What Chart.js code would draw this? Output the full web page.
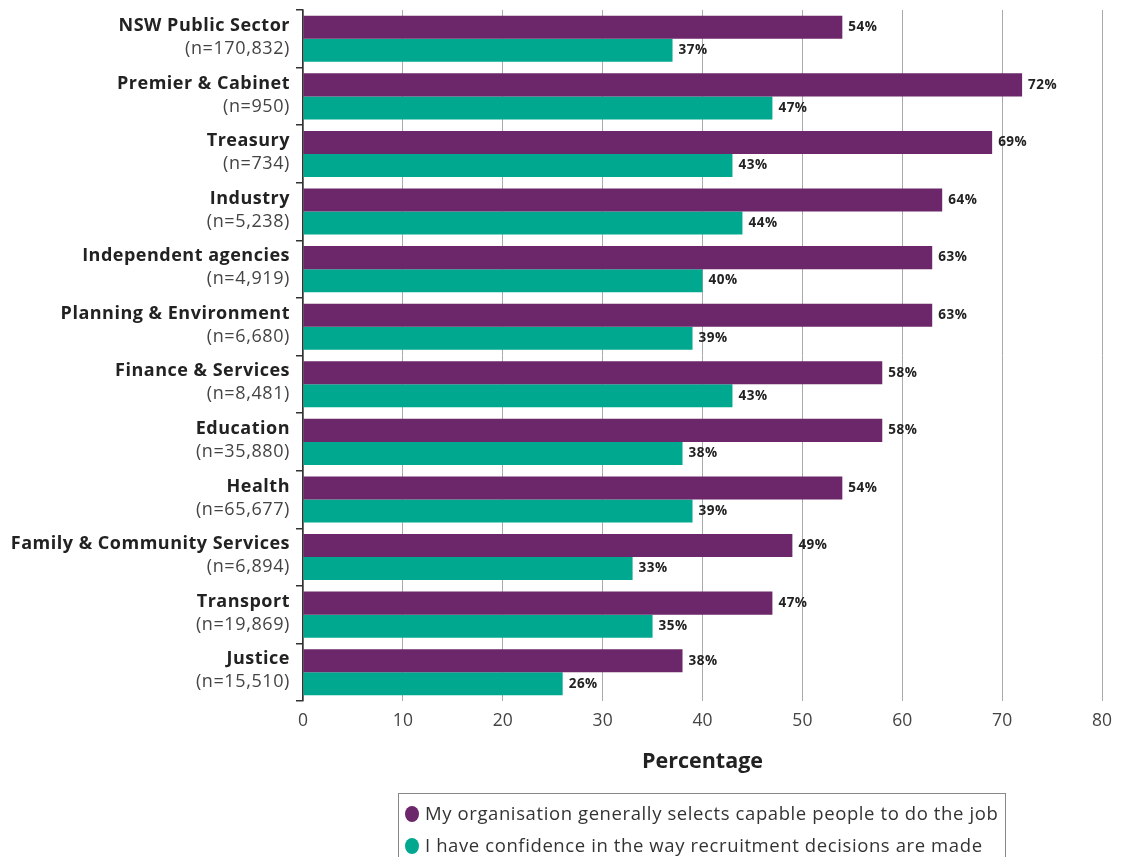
<!DOCTYPE html>
<html>
<head>
<meta charset="utf-8">
<script src="https://cdn.jsdelivr.net/npm/chart.js@4.4.0/dist/chart.umd.min.js"></script>
<style>
  html, body { margin: 0; padding: 0; background: #fff; }
  #wrap { position: relative; width: 1130px; height: 857px; overflow: hidden; }
  #legend {
    position: absolute; left: 398px; top: 793px; width: 608px; height: 80px;
    border: 1px solid #888; box-sizing: border-box; padding: 5px 0 0 6px;
    font-family: "Open Sans", sans-serif; font-size: 18.5px; letter-spacing: 0.6px; color: #333;
  }
  #legend div { height: 32px; line-height: 28px; white-space: nowrap; }
  #legend span.dot {
    display: inline-block; width: 14px; height: 16px; border-radius: 50%;
    vertical-align: -2px; margin-right: 6px;
  }
</style>
</head>
<body>
<div id="wrap">
  <canvas id="chart" width="1130" height="857"></canvas>
  <div id="legend"></div>
</div>
<script>
const categories = [
  'NSW Public Sector', 'Premier & Cabinet', 'Treasury', 'Industry',
  'Independent agencies', 'Planning & Environment', 'Finance & Services',
  'Education', 'Health', 'Family & Community Services', 'Transport', 'Justice'
];
const sampleSizes = [
  '(n=170,832)', '(n=950)', '(n=734)', '(n=5,238)', '(n=4,919)', '(n=6,680)',
  '(n=8,481)', '(n=35,880)', '(n=65,677)', '(n=6,894)', '(n=19,869)', '(n=15,510)'
];
const selectsCapable = [54, 72, 69, 64, 63, 63, 58, 58, 54, 49, 47, 38];
const confidence = [37, 47, 43, 44, 40, 39, 43, 38, 39, 33, 35, 26];
const seriesNames = [
  'My organisation generally selects capable people to do the job',
  'I have confidence in the way recruitment decisions are made'
];
const colours = ['#6b2769', '#00a88f'];

const FONT = '"Open Sans", sans-serif';

// two-line category labels: bold name, light sample size
const categoryLabels = {
  id: 'categoryLabels',
  afterDraw(chart) {
    const { ctx, scales: { y } } = chart;
    ctx.save();
    ctx.textAlign = 'right';
    ctx.textBaseline = 'middle';
    categories.forEach((name, i) => {
      const cy = y.getPixelForValue(i);
      ctx.fillStyle = '#222';
      ctx.font = 'bold 18px ' + FONT;
      ctx.letterSpacing = '0.5px';
      ctx.fillText(name, 290, cy - 13);
      ctx.fillStyle = '#444';
      ctx.font = '18px ' + FONT;
      ctx.letterSpacing = '0.6px';
      ctx.fillText(sampleSizes[i], 290, cy + 10);
    });
    ctx.restore();
  }
};

// percentage labels at the bar ends
const valueLabels = {
  id: 'valueLabels',
  afterDatasetsDraw(chart) {
    const { ctx } = chart;
    ctx.save();
    ctx.font = 'bold 13.5px ' + FONT;
    ctx.letterSpacing = '0.5px';
    ctx.fillStyle = '#222';
    ctx.textBaseline = 'middle';
    chart.data.datasets.forEach((ds, di) => {
      chart.getDatasetMeta(di).data.forEach((bar, i) => {
        ctx.fillText(ds.data[i] + '%', bar.x + 6, bar.y);
      });
    });
    ctx.restore();
  }
};

new Chart(document.getElementById('chart'), {
  type: 'bar',
  data: {
    labels: categories,
    datasets: [
      { label: seriesNames[0], data: selectsCapable, backgroundColor: colours[0] },
      { label: seriesNames[1], data: confidence, backgroundColor: colours[1] }
    ]
  },
  options: {
    responsive: false,
    animation: false,
    indexAxis: 'y',
    layout: { padding: { top: 10, right: 28, bottom: 82, left: 0 } },
    categoryPercentage: 0.8,
    barPercentage: 1.0,
    plugins: { legend: { display: false }, tooltip: { enabled: false } },
    scales: {
      x: {
        min: 0,
        max: 80,
        ticks: { stepSize: 10, color: '#444', padding: 10, font: { family: FONT, size: 17.5 } },
        grid: { color: '#aaa', drawTicks: false },
        border: { display: false },
        title: {
          display: true,
          text: 'Percentage',
          color: '#222',
          font: { family: FONT, size: 21.5, weight: 'bold' },
          padding: { top: 18, bottom: 0 }
        },
        afterFit(scale) { scale.height = 74; }
      },
      y: {
        ticks: { display: false },
        grid: { offset: true, drawOnChartArea: false, tickLength: 7, color: '#333', lineWidth: 1.5 },
        border: { color: '#333', width: 1.5 },
        afterFit(scale) { scale.width = 303; }
      }
    }
  },
  plugins: [categoryLabels, valueLabels]
});

document.getElementById('legend').innerHTML = seriesNames.map((name, i) =>
  '<div><span class="dot" style="background:' + colours[i] + '"></span>' + name + '</div>'
).join('');
</script>
</body>
</html>
